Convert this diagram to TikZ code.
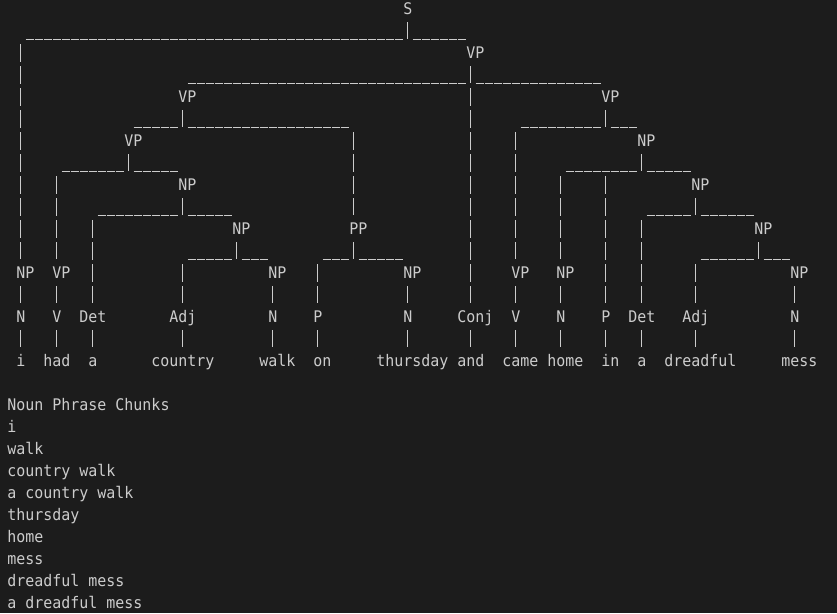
\documentclass[tikz,border=0pt]{standalone}
\usepackage{fontspec}
\usetikzlibrary{calc}
\newfontfamily\termfont[FakeStretch=0.935]{DejaVu Sans Mono}
\definecolor{termbg}{HTML}{1C1C1C}
\definecolor{termfg}{HTML}{CCCCCC}

% label: name, first column, column of its bar, row, text
\newcommand\tlabel[5]{%
  \node[lbl] (#1) at (#2-0.5,#4) {#5};
  \coordinate (#1-b) at (#3,#4);}
% parent #1 with leftmost child #2 and rightmost child #3
\newcommand\tbranch[3]{%
  \draw[bar] ($(#1-b)+(0,.591)$) -- ($(#1-b)+(0,1.386)$);
  \draw[under] ($(#2-b |- #1-b)+(.5,1.364)$) -- ($(#1-b)+(-.5,1.364)$);
  \draw[under] ($(#1-b)+(.5,1.364)$) -- ($(#3-b |- #1-b)+(-.5,1.364)$);}
% child #2 hanging from the line of parent #1
\newcommand\tdown[2]{%
  \draw[bar] ($(#2-b |- #1-b)+(0,1.591)$) -- ($(#2-b)+(0,-.614)$);}
% parent #1 with one child #2
\newcommand\tunary[2]{%
  \draw[bar] ($(#1-b)+(0,.591)$) -- ($(#2-b)+(0,-.614)$);}

\begin{document}
\begin{tikzpicture}[x=9pt,y=-22pt,
  lbl/.style={anchor=base west,yshift=-5pt,inner sep=0pt,text=termfg,
    font=\termfont\fontsize{16}{22}\selectfont},
  bar/.style={draw=termfg,line width=1.25pt,dash pattern=on 17.5pt off 4.5pt},
  under/.style={draw=termfg,line width=1pt,dash pattern=on 8pt off 1pt,dash phase=8.5pt}]
\useasboundingbox (-1.3,-0.409) rectangle (91.7,27.4545);
\fill[termbg] (-1.3,-0.409) rectangle (91.7,27.4545);

% phrase labels
\tlabel{s}{44}{44}{0}{S}
\tlabel{vp}{51}{51}{2}{VP}
\tlabel{vp1}{19}{19}{4}{VP}
\tlabel{vp2}{66}{66}{4}{VP}
\tlabel{vp3}{13}{13}{6}{VP}
\tlabel{np3}{70}{70}{6}{NP}
\tlabel{np1}{19}{19}{8}{NP}
\tlabel{np4}{76}{76}{8}{NP}
\tlabel{np2}{25}{25}{10}{NP}
\tlabel{pp}{38}{38}{10}{PP}
\tlabel{np5}{83}{83}{10}{NP}
\tlabel{np-i}{1}{1}{12}{NP}
\tlabel{vp-had}{5}{5}{12}{VP}
\tlabel{np-walk}{29}{29}{12}{NP}
\tlabel{np-thu}{44}{44}{12}{NP}
\tlabel{vp-came}{56}{56}{12}{VP}
\tlabel{np-home}{61}{61}{12}{NP}
\tlabel{np-mess}{87}{87}{12}{NP}

% word classes
\tlabel{n-i}{1}{1}{14}{N}
\tlabel{v-had}{5}{5}{14}{V}
\tlabel{det-a}{8}{9}{14}{Det}
\tlabel{adj-country}{18}{19}{14}{Adj}
\tlabel{n-walk}{29}{29}{14}{N}
\tlabel{p-on}{34}{34}{14}{P}
\tlabel{n-thu}{44}{44}{14}{N}
\tlabel{conj}{50}{51}{14}{Conj}
\tlabel{v-came}{56}{56}{14}{V}
\tlabel{n-home}{61}{61}{14}{N}
\tlabel{p-in}{66}{66}{14}{P}
\tlabel{det-a2}{69}{70}{14}{Det}
\tlabel{adj-dreadful}{75}{76}{14}{Adj}
\tlabel{n-mess}{87}{87}{14}{N}

% words
\tlabel{w-i}{1}{1}{16}{i}
\tlabel{w-had}{4}{5}{16}{had}
\tlabel{w-a}{9}{9}{16}{a}
\tlabel{w-country}{16}{19}{16}{country}
\tlabel{w-walk}{28}{29}{16}{walk}
\tlabel{w-on}{34}{34}{16}{on}
\tlabel{w-thursday}{41}{44}{16}{thursday}
\tlabel{w-and}{50}{51}{16}{and}
\tlabel{w-came}{55}{56}{16}{came}
\tlabel{w-home}{60}{61}{16}{home}
\tlabel{w-in}{66}{66}{16}{in}
\tlabel{w-a2}{70}{70}{16}{a}
\tlabel{w-dreadful}{73}{76}{16}{dreadful}
\tlabel{w-mess}{86}{87}{16}{mess}

% branches
\tbranch{s}{np-i}{vp}
\tbranch{vp}{vp1}{vp2}
\tbranch{vp1}{vp3}{pp}
\tbranch{vp2}{vp-came}{np3}
\tbranch{vp3}{vp-had}{np1}
\tbranch{np3}{np-home}{np4}
\tbranch{np1}{det-a}{np2}
\tbranch{np4}{det-a2}{np5}
\tbranch{np2}{adj-country}{np-walk}
\tbranch{pp}{p-on}{np-thu}
\tbranch{np5}{adj-dreadful}{np-mess}

\tdown{s}{np-i}
\tdown{vp}{conj}
\tdown{vp1}{pp}
\tdown{vp2}{vp-came}
\tdown{vp3}{vp-had}
\tdown{np3}{np-home}
\tdown{np3}{p-in}
\tdown{np1}{det-a}
\tdown{np4}{det-a2}
\tdown{np2}{adj-country}
\tdown{pp}{p-on}
\tdown{np5}{adj-dreadful}

\tunary{np-i}{n-i}
\tunary{n-i}{w-i}
\tunary{vp-had}{v-had}
\tunary{v-had}{w-had}
\tunary{det-a}{w-a}
\tunary{adj-country}{w-country}
\tunary{np-walk}{n-walk}
\tunary{n-walk}{w-walk}
\tunary{p-on}{w-on}
\tunary{np-thu}{n-thu}
\tunary{n-thu}{w-thursday}
\tunary{conj}{w-and}
\tunary{vp-came}{v-came}
\tunary{v-came}{w-came}
\tunary{np-home}{n-home}
\tunary{n-home}{w-home}
\tunary{p-in}{w-in}
\tunary{det-a2}{w-a2}
\tunary{adj-dreadful}{w-dreadful}
\tunary{np-mess}{n-mess}
\tunary{n-mess}{w-mess}

% chunk list
\node[lbl] (title) at (-0.5,18) {Noun Phrase Chunks};
\node[lbl] (c1) at (-0.5,19) {i};
\node[lbl] (c2) at (-0.5,20) {walk};
\node[lbl] (c3) at (-0.5,21) {country walk};
\node[lbl] (c4) at (-0.5,22) {a country walk};
\node[lbl] (c5) at (-0.5,23) {thursday};
\node[lbl] (c6) at (-0.5,24) {home};
\node[lbl] (c7) at (-0.5,25) {mess};
\node[lbl] (c8) at (-0.5,26) {dreadful mess};
\node[lbl] (c9) at (-0.5,27) {a dreadful mess};
\end{tikzpicture}
\end{document}
